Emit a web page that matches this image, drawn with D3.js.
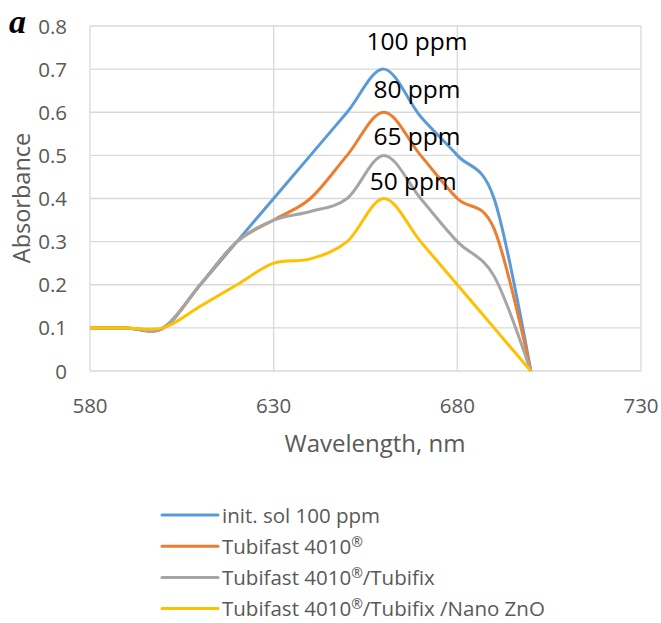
<!DOCTYPE html>
<html>
<head>
<meta charset="utf-8">
<script src="https://cdn.jsdelivr.net/npm/d3@7"></script>
<style>
  body { margin: 0; background: #fff; }
  svg text { font-family: "Open Sans", "Liberation Sans", sans-serif; }
</style>
</head>
<body>
<div id="chart"></div>
<script>
// wavelength points (nm)
const wavelengths = [580, 590, 600, 610, 620, 630, 640, 650, 660, 670, 680, 690, 700];

const seriesNames = ["init. sol 100 ppm", "Tubifast 4010®", "Tubifast 4010®/Tubifix", "Tubifast 4010®/Tubifix /Nano ZnO"];
const initSol   = [0.1, 0.1, 0.1, 0.2, 0.3, 0.4, 0.5, 0.6, 0.7, 0.59, 0.5, 0.4, 0];
const tubifast  = [0.1, 0.1, 0.1, 0.2, 0.3, 0.35, 0.4, 0.5, 0.6, 0.5, 0.4, 0.33, 0];
const tubifix   = [0.1, 0.1, 0.1, 0.2, 0.3, 0.35, 0.37, 0.4, 0.5, 0.4, 0.3, 0.22, 0];
const nanoZnO   = [0.1, 0.1, 0.1, 0.15, 0.2, 0.25, 0.26, 0.3, 0.4, 0.3, 0.2, 0.1, 0];
const colors = ["#5B9BD5", "#ED7D31", "#A5A5A5", "#FFC000"];

// peak labels
const peakLabels = ["100 ppm", "80 ppm", "65 ppm", "50 ppm"];
const peakLabelX = [669, 669, 669, 668];
const peakLabelY = [0.745, 0.633, 0.524, 0.42];

const xTicks = [580, 630, 680, 730];
const yTicks = [0, 0.1, 0.2, 0.3, 0.4, 0.5, 0.6, 0.7, 0.8];

var width = 661, height = 623;
var svg = d3.select("#chart").append("svg")
    .attr("width", width)
    .attr("height", height);

var x = d3.scaleLinear().domain([580, 730]).range([90, 641]),
    y = d3.scaleLinear().domain([0, 0.8]).range([371, 26]);

var series = [initSol, tubifast, tubifix, nanoZnO].map(function(vals, i) {
  return {
    name: seriesNames[i],
    color: colors[i],
    values: wavelengths.map(function(w, j) { return {w: w, a: vals[j]}; })
  };
});

// gridlines
svg.append("g").selectAll("line.h")
  .data(yTicks)
  .enter().append("line")
    .attr("x1", x(580)).attr("x2", x(730))
    .attr("y1", d => y(d)).attr("y2", d => y(d))
    .style("stroke", "#d9d9d9").style("stroke-width", 1.3);

svg.append("g").selectAll("line.v")
  .data(xTicks)
  .enter().append("line")
    .attr("x1", d => x(d)).attr("x2", d => x(d))
    .attr("y1", y(0)).attr("y2", y(0.8))
    .style("stroke", "#d9d9d9").style("stroke-width", 1.3);

// tick labels
svg.append("g").selectAll("text")
  .data(yTicks)
  .enter().append("text")
    .attr("x", 67)
    .attr("y", d => y(d) + 7.5)
    .attr("text-anchor", "end")
    .style("font-size", "20.5px")
    .style("fill", "#595959")
    .text(d => d === 0 ? "0" : d3.format(".1f")(d));

svg.append("g").selectAll("text")
  .data(xTicks)
  .enter().append("text")
    .attr("x", d => x(d))
    .attr("y", 413)
    .attr("text-anchor", "middle")
    .style("font-size", "20.5px")
    .style("fill", "#595959")
    .text(d => d);

// axis titles
svg.append("text")
  .attr("transform", "translate(30,198) rotate(-90)")
  .attr("text-anchor", "middle")
  .style("font-size", "23.5px")
  .style("fill", "#595959")
  .text("Absorbance");

svg.append("text")
  .attr("x", 375)
  .attr("y", 452)
  .attr("text-anchor", "middle")
  .style("font-size", "24px")
  .style("fill", "#595959")
  .text("Wavelength, nm");

// panel letter
svg.append("text")
  .attr("x", 9)
  .attr("y", 33)
  .style("font-family", "'Liberation Serif', 'DejaVu Serif', serif")
  .style("font-weight", "bold")
  .style("font-style", "italic")
  .style("font-size", "34px")
  .style("fill", "#000")
  .text("a");

var line = d3.line()
    .curve(d3.curveCatmullRom.alpha(0))
    .x(d => x(d.w))
    .y(d => y(d.a));

svg.append("g").selectAll("path")
  .data(series)
  .enter().append("path")
    .attr("d", d => line(d.values))
    .style("fill", "none")
    .style("stroke", d => d.color)
    .style("stroke-width", 3)
    .style("stroke-linejoin", "round");

// peak labels
svg.append("g").selectAll("text")
  .data(peakLabels)
  .enter().append("text")
    .attr("x", (d, i) => x(peakLabelX[i]))
    .attr("y", (d, i) => y(peakLabelY[i]))
    .attr("text-anchor", "middle")
    .style("font-size", "24.5px")
    .style("fill", "#000")
    .text(d => d);

// legend
var legend = svg.append("g").selectAll("g")
  .data(series)
  .enter().append("g")
    .attr("transform", (d, i) => "translate(162," + (515 + i * 31.2) + ")");

legend.append("line")
  .attr("x1", 0).attr("x2", 56)
  .style("stroke", d => d.color)
  .style("stroke-width", 3)
  .style("stroke-linecap", "round");

var legendText = legend.append("text")
  .attr("x", 60)
  .attr("y", 7.5)
  .style("font-size", "20.5px")
  .style("fill", "#595959");

// small raised ® like the original
legendText.each(function(d) {
  var t = d3.select(this);
  d.name.split(/(®)/).forEach(function(part) {
    if (!part) return;
    var span = t.append("tspan").text(part);
    if (part === "®") span.style("font-size", "14px").attr("dy", -7);
    else if (t.selectAll("tspan").size() > 1) span.attr("dy", 7);
  });
});
</script>
</body>
</html>
